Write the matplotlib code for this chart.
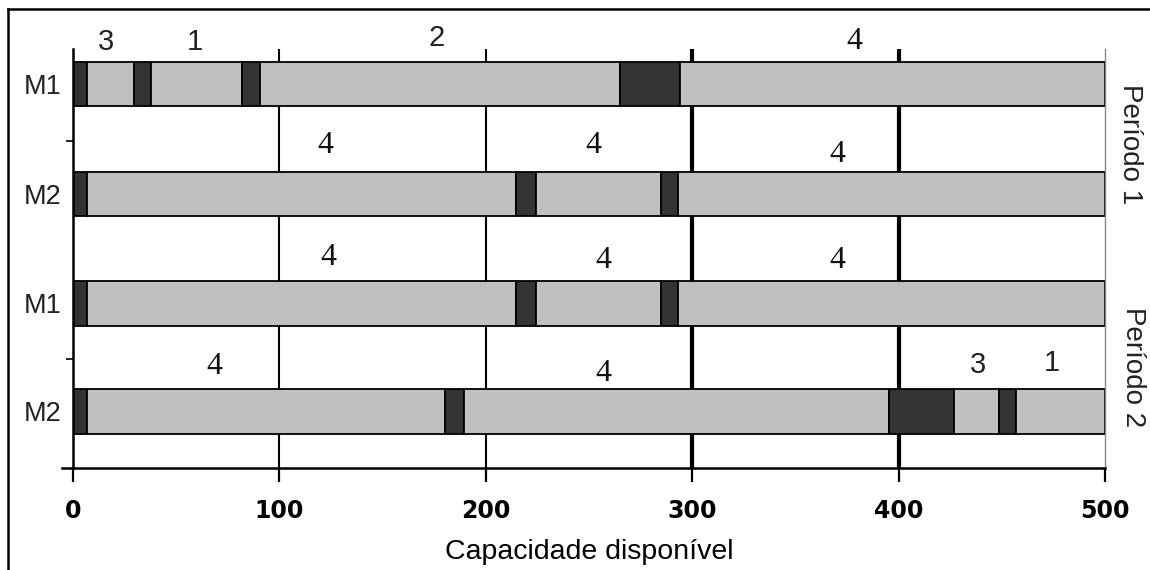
import numpy as np
import matplotlib
matplotlib.use("Agg")
import matplotlib.pyplot as plt
from matplotlib.lines import Line2D

# rows from top to bottom: machine, vertical position
row_names = ["M1", "M2", "M1", "M2"]
row_pos = [3.52, 2.51, 1.51, 0.52]

# segment widths per row, alternating setup (dark) / processing (light)
seg_m1_p1 = [7.0, 22.7, 8.2, 44.1, 8.4, 174.5, 29.4, 205.7]
seg_m2_p1 = [7.0, 207.6, 9.6, 60.7, 8.1, 207.0]
seg_m1_p2 = [7.0, 207.6, 9.6, 60.7, 8.1, 207.0]
seg_m2_p2 = [7.0, 173.2, 9.2, 205.8, 31.5, 21.9, 8.1, 43.3]
rows = [seg_m1_p1, seg_m2_p1, seg_m1_p2, seg_m2_p2]

# job numbers written above the bars (x, y, label)
job_x = [[15.9, 59.1, 176.4, 378.4],
         [122.1, 251.9, 370.2],
         [123.5, 256.8, 370.2],
         [68.3, 256.8, 438.5, 474.3]]
job_y = [[3.90, 3.90, 3.94, 3.91],
         [2.96, 2.96, 2.87],
         [1.93, 1.90, 1.90],
         [0.93, 0.87, 0.94, 0.96]]
job_lbl = [["3", "1", "2", "4"],
           ["4", "4", "4"],
           ["4", "4", "4"],
           ["4", "4", "3", "1"]]

x_ticks = [0, 100, 200, 300, 400, 500]
periods = ["Período 1", "Período 2"]

DARK = "#333333"
LIGHT = "#c0c0c0"

fig = plt.figure(figsize=(11.5, 5.7), dpi=100)
ax = fig.add_axes([73 / 1150, 1 - 468 / 570, 1032 / 1150, 419 / 570])

# vertical guide lines
for xv in x_ticks[1:-1]:
    ax.axvline(xv, color="black", lw=1.5 if xv < 300 else 3.0, zorder=1)

for segs, y in zip(rows, row_pos):
    w = np.array(segs)
    left = np.concatenate([[0], np.cumsum(w)[:-1]])
    cols = [DARK if i % 2 == 0 else LIGHT for i in range(len(w))]
    ax.barh(y, w, left=left, height=0.41, color=cols,
            edgecolor="black", linewidth=1.3, zorder=2)

for xs, ys, ls in zip(job_x, job_y, job_lbl):
    for xv, yv, t in zip(xs, ys, ls):
        if t == "4":
            ax.text(xv, yv, t, ha="center", va="center", fontsize=23,
                    family="Liberation Serif", color="#111111", clip_on=False)
        else:
            ax.text(xv, yv, t, ha="center", va="center", fontsize=21,
                    family="Liberation Sans", color="#222222", clip_on=False)

ax.set_xlim(0, 500)
ax.set_ylim(0, 3.84)

ax.set_xticks(x_ticks)
ax.set_xticklabels([str(v) for v in x_ticks], fontsize=17,
                   fontweight="bold", family="DejaVu Sans")
ax.tick_params(axis="x", direction="out", length=10, width=1.6, pad=12)

ax.set_yticks(row_pos)
ax.set_yticklabels(row_names, fontsize=19.5, family="Liberation Sans",
                   color="#222222")
ax.tick_params(axis="y", length=0, pad=8)
ax.set_yticks([1, 3], minor=True)
ax.tick_params(axis="y", which="minor", direction="out", length=5, width=1.2)

ax.spines["top"].set_visible(False)
ax.spines["right"].set_color("#888888")
ax.spines["right"].set_linewidth(1.0)
ax.spines["left"].set_linewidth(1.8)
ax.spines["bottom"].set_linewidth(1.8)
# x axis line runs a little past the y axis
ax.plot([-5.3, 0], [0, 0], color="black", lw=1.8, clip_on=False)

ax.set_xlabel("Capacidade disponível", fontsize=20.5, family="Liberation Sans",
              labelpad=12)

fig.text(1130 / 1150, 1 - 144 / 570, periods[0], rotation=270, ha="center",
         va="center", fontsize=20, family="Liberation Sans", color="#222222")
fig.text(1133 / 1150, 1 - 367 / 570, periods[1], rotation=270, ha="center",
         va="center", fontsize=20, family="Liberation Sans", color="#222222")

# outer frame
fig.add_artist(Line2D([8 / 1150, 8 / 1150], [0, 1 - 9 / 570], color="black",
                      lw=1.8, transform=fig.transFigure))
fig.add_artist(Line2D([8 / 1150, 1], [1 - 9 / 570, 1 - 9 / 570], color="black",
                      lw=1.8, transform=fig.transFigure))

fig.savefig("out.png", dpi=100)
